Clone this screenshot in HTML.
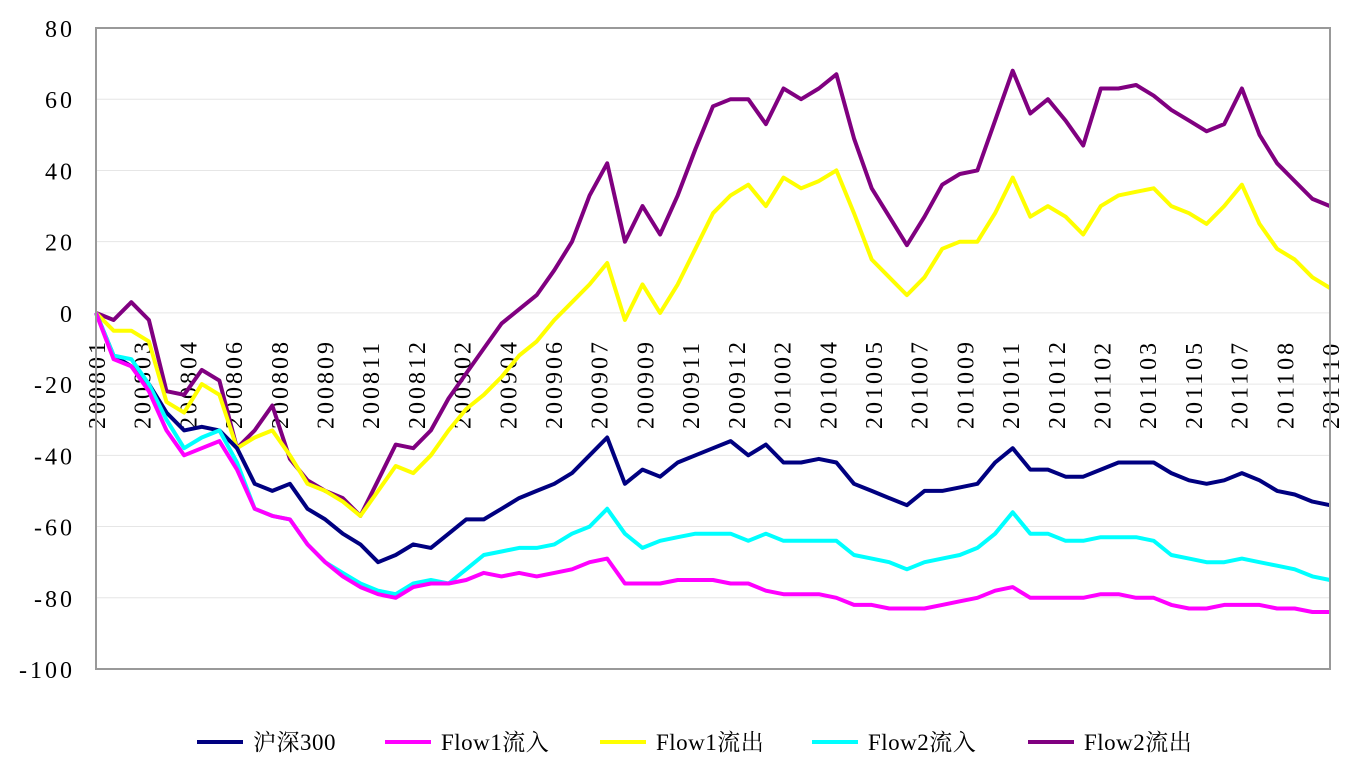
<!DOCTYPE html>
<html><head><meta charset="utf-8"><style>
body{margin:0;background:#fff;}
svg text{font-family:"Liberation Serif","Noto Serif CJK SC",serif;font-size:24px;fill:#000;letter-spacing:3px;}
svg text.leg{letter-spacing:0.5px;font-size:23px;}
</style></head><body>
<svg id="chart" width="1347" height="768" xmlns="http://www.w3.org/2000/svg">
<g id="grid"></g><g id="xlabels"></g><g id="ylabels"></g><g id="lines"></g>
<rect x="96" y="28" width="1234" height="641" fill="none" stroke="#999" stroke-width="2"/>
<g id="legend"></g>
</svg>
<script>
const xLabels=["200801","200803","200804","200806","200808","200809","200811","200812","200902","200904","200906","200907","200909","200911","200912","201002","201004","201005","201007","201009","201011","201012","201102","201103","201105","201107","201108","201110"];
const yTicks=[80,60,40,20,0,-20,-40,-60,-80,-100];
const seriesNames=["沪深300","Flow1流入","Flow1流出","Flow2流入","Flow2流出"];
const seriesColors=["#000080","#ff00ff","#ffff00","#00ffff","#800080"];
const hs300=[0,-12,-15,-20,-28,-33,-32,-33,-38,-48,-50,-48,-55,-58,-62,-65,-70,-68,-65,-66,-62,-58,-58,-55,-52,-50,-48,-45,-40,-35,-48,-44,-46,-42,-40,-38,-36,-40,-37,-42,-42,-41,-42,-48,-50,-52,-54,-50,-50,-49,-48,-42,-38,-44,-44,-46,-46,-44,-42,-42,-42,-45,-47,-48,-47,-45,-47,-50,-51,-53,-54];
const flow1In=[0,-13,-15,-22,-33,-40,-38,-36,-44,-55,-57,-58,-65,-70,-74,-77,-79,-80,-77,-76,-76,-75,-73,-74,-73,-74,-73,-72,-70,-69,-76,-76,-76,-75,-75,-75,-76,-76,-78,-79,-79,-79,-80,-82,-82,-83,-83,-83,-82,-81,-80,-78,-77,-80,-80,-80,-80,-79,-79,-80,-80,-82,-83,-83,-82,-82,-82,-83,-83,-84,-84];
const flow1Out=[0,-5,-5,-8,-25,-28,-20,-23,-38,-35,-33,-40,-48,-50,-53,-57,-50,-43,-45,-40,-33,-27,-23,-18,-12,-8,-2,3,8,14,-2,8,0,8,18,28,33,36,30,38,35,37,40,28,15,10,5,10,18,20,20,28,38,27,30,27,22,30,33,34,35,30,28,25,30,36,25,18,15,10,7];
const flow2In=[0,-12,-13,-20,-30,-38,-35,-33,-42,-55,-57,-58,-65,-70,-73,-76,-78,-79,-76,-75,-76,-72,-68,-67,-66,-66,-65,-62,-60,-55,-62,-66,-64,-63,-62,-62,-62,-64,-62,-64,-64,-64,-64,-68,-69,-70,-72,-70,-69,-68,-66,-62,-56,-62,-62,-64,-64,-63,-63,-63,-64,-68,-69,-70,-70,-69,-70,-71,-72,-74,-75];
const flow2Out=[0,-2,3,-2,-22,-23,-16,-19,-38,-33,-26,-41,-47,-50,-52,-57,-47,-37,-38,-33,-24,-17,-10,-3,1,5,12,20,33,42,20,30,22,33,46,58,60,60,53,63,60,63,67,49,35,27,19,27,36,39,40,54,68,56,60,54,47,63,63,64,61,57,54,51,53,63,50,42,37,32,30];
const L=96,R=1330,T=28,B=669,yMin=-100,yMax=80;
const NS="http://www.w3.org/2000/svg";
const yS=v=>B-(v-yMin)/(yMax-yMin)*(B-T);
const xS=(i,n)=>L+i*(R-L)/(n-1);
function mk(t,a,p){const e=document.createElementNS(NS,t);for(const k in a)e.setAttribute(k,a[k]);p.appendChild(e);return e;}
const grid=document.getElementById('grid'),yl=document.getElementById('ylabels'),xl=document.getElementById('xlabels'),lines=document.getElementById('lines'),leg=document.getElementById('legend');
yTicks.forEach(v=>{
  const g=mk('line',{x1:L,x2:R,y1:yS(v),y2:yS(v),stroke:'#e6e6e6','stroke-width':1},grid);
  
  
  const t=mk('text',{x:75,y:yS(v)+9,'text-anchor':'end'},yl);t.textContent=v;
  
  
});
xLabels.forEach((s,i)=>{
  const x=xS(i,xLabels.length)+9,y=429;
  const t=mk('text',{x:x,y:y,'text-anchor':'start',transform:`rotate(-90 ${x} ${y})`},xl);t.textContent=s;
  
  
});
const data=[hs300,flow1In,flow1Out,flow2In,flow2Out];
const order=[4,2,0,3,1];
order.forEach(k=>{
  const d=data[k];
  const pts=d.map((v,i)=>xS(i,d.length).toFixed(1)+','+yS(v).toFixed(1)).join(' ');
  const p=mk('polyline',{points:pts,fill:'none',stroke:seriesColors[k],'stroke-width':4,'stroke-linejoin':'round'},lines);
  
  
});
const legX=[197,385,600,812,1028];
seriesNames.forEach((n,k)=>{
  const g=mk('g',{},leg);
  
  
  mk('line',{x1:legX[k],x2:legX[k]+46,y1:742,y2:742,stroke:seriesColors[k],'stroke-width':4},g);
  const t=mk('text',{x:legX[k]+56,y:750,class:'leg'},g);t.textContent=n;
});
</script>
</body></html>
